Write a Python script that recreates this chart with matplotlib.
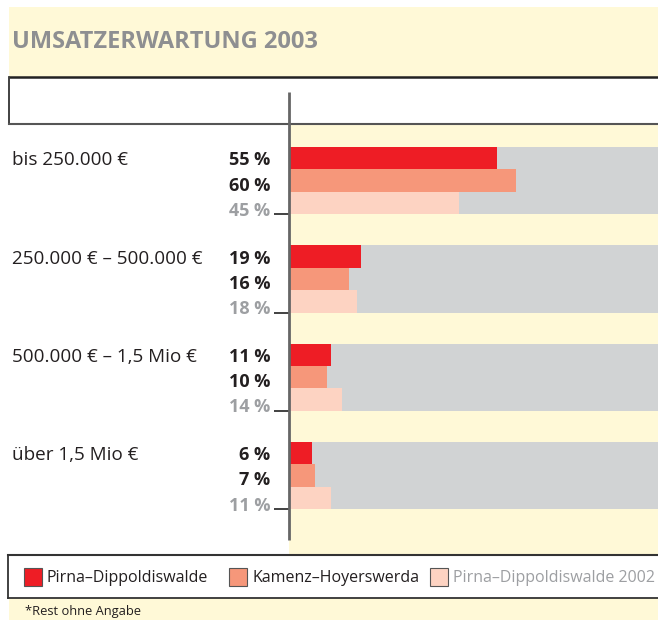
import numpy as np
import matplotlib
matplotlib.use("Agg")
import matplotlib.pyplot as plt
from matplotlib.patches import Rectangle

# data
categories = ["bis 250.000 €", "250.000 € – 500.000 €", "500.000 € – 1,5 Mio €", "über 1,5 Mio €"]
pirna = [55, 19, 11, 6]
kamenz = [60, 16, 10, 7]
pirna_2002 = [45, 18, 14, 11]
series_names = ["Pirna–Dippoldiswalde", "Kamenz–Hoyerswerda", "Pirna–Dippoldiswalde 2002"]
title = "UMSATZERWARTUNG 2003"
footnote = "*Rest ohne Angabe"

colors = ["#EE1D25", "#F6977A", "#FDD3C2"]
label_colors = ["#231F20", "#231F20", "#9D9FA2"]
grey = "#D1D3D4"
cream = "#FFF9D7"
line_col = "#333333"
font = "Open Sans"

W, H = 658, 620
fig = plt.figure(figsize=(W / 100, H / 100), dpi=100)

# background layer in pixel coords
bg = fig.add_axes([0, 0, 1, 1], zorder=0)
bg.set_xlim(0, W)
bg.set_ylim(H, 0)
bg.axis("off")
bg.add_patch(Rectangle((9, 7), W - 9, 70, color=cream, lw=0))
bg.add_patch(Rectangle((9, 598), W - 9, 22, color=cream, lw=0))

# bar axes
x0, x1, y0, y1 = 289, 658, 124, 555
ax = fig.add_axes([x0 / W, (H - y1) / H, (x1 - x0) / W, (y1 - y0) / H], zorder=1)
ax.set_facecolor(cream)
px_per_pct = 3.78
slot = 22.4
ax.set_xlim(0, (x1 - x0) / px_per_pct)
ax.set_ylim((y1 - y0) / slot, 0)
for s in ax.spines.values():
    s.set_visible(False)
ax.set_xticks([])
ax.set_yticks([])

first_top = (147 - y0) / slot
group_step = 98.3 / slot
series = [pirna, kamenz, pirna_2002]

for i, cat in enumerate(categories):
    gtop = first_top + i * group_step
    for j, vals in enumerate(series):
        yc = gtop + j + 0.5
        ax.barh(yc, 100, height=1.0, color=grey, lw=0)
        ax.barh(yc, vals[i], height=1.0, color=colors[j], lw=0)
        ax.text(-5.0, gtop + j * 1.12 + 0.6, f"{vals[i]} %", ha="right", va="center",
                fontsize=13, fontweight="bold", color=label_colors[j],
                family=font, clip_on=False)
    # tick at group bottom
    ax.plot([-15 / px_per_pct, 0], [gtop + 3, gtop + 3], color=line_col, lw=1.3,
            clip_on=False, solid_capstyle="butt")
    ax.annotate(cat, xy=(12, 0), xycoords=("figure pixels", "data"),
                xytext=(12, gtop + 0.6), textcoords=("figure pixels", "data"),
                ha="left", va="center", fontsize=13.6, color="#231F20", family=font)

# overlay with frame lines and text
top = fig.add_axes([0, 0, 1, 1], zorder=3)
top.patch.set_alpha(0)
top.set_xlim(0, W)
top.set_ylim(H, 0)
top.axis("off")

top.text(12, 42, title, ha="left", va="center", fontsize=17, fontweight="bold",
         color="#8E8F91", family=font)

# header box
top.plot([9, W], [77, 77], color="#222222", lw=1.8, solid_capstyle="butt")
top.plot([9, 9], [77, 124], color=line_col, lw=1.3)
top.plot([9, W], [124, 124], color="#555555", lw=1.5)
# axis line
top.plot([289, 289], [92, 540], color="#666666", lw=2.0, solid_capstyle="butt")
# legend box
top.plot([8, W], [555, 555], color=line_col, lw=1.5)
top.plot([8, 8], [555, 598], color=line_col, lw=1.3)
top.plot([8, W], [598, 598], color=line_col, lw=1.3)

leg_x = [24, 229, 430]
for k, name in enumerate(series_names):
    top.add_patch(Rectangle((leg_x[k], 568), 18, 18, facecolor=colors[k],
                            edgecolor="#555555", lw=0.8))
    top.text(leg_x[k] + 23, 577.5, name, ha="left", va="center", fontsize=11.5,
             color=label_colors[k], family=font)

top.text(25, 611, footnote, ha="left", va="center", fontsize=9.3, color="#231F20",
         family=font)

fig.savefig("out.png", dpi=100)
